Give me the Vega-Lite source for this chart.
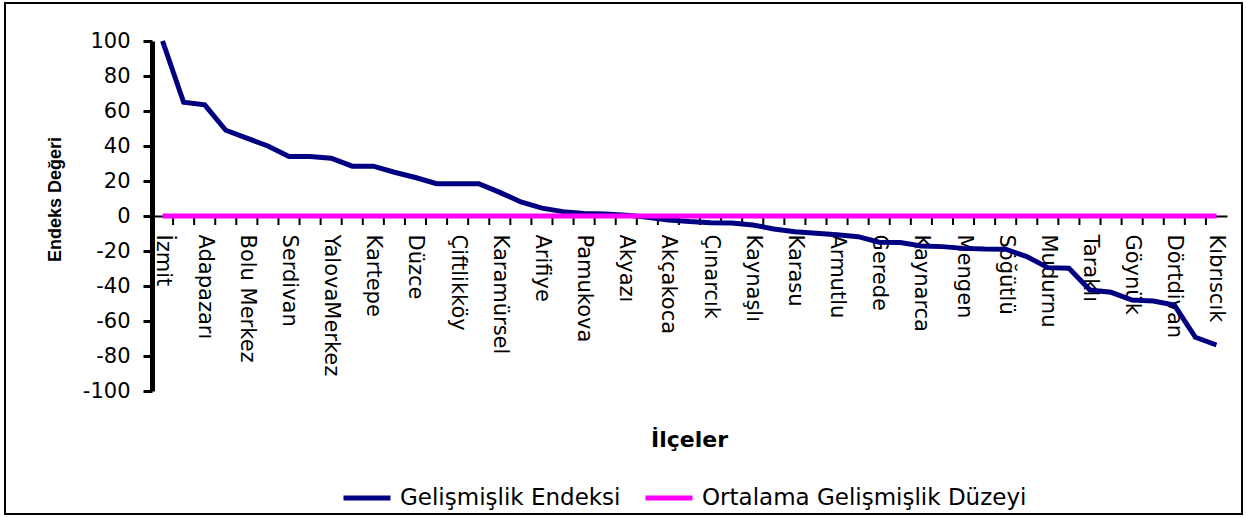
{
  "$schema": "https://vega.github.io/schema/vega-lite/v6.json",
  "width": 1237,
  "height": 511,
  "autosize": {"type": "none"},
  "padding": {"left": 5, "top": 3, "right": 4, "bottom": 3},
  "background": "white",
  "config": {
    "view": {"stroke": "black", "strokeWidth": 2},
    "axis": {"grid": false}
  },
  "datasets": {
    "ilceler": [
      {"ilce": "İzmit", "endeks": 100, "ortalama": 0},
      {"ilce": "Gebze", "endeks": 65, "ortalama": 0},
      {"ilce": "Adapazarı", "endeks": 63.5, "ortalama": 0},
      {"ilce": "Körfez", "endeks": 49, "ortalama": 0},
      {"ilce": "Bolu Merkez", "endeks": 44.5, "ortalama": 0},
      {"ilce": "Gölcük", "endeks": 40, "ortalama": 0},
      {"ilce": "Serdivan", "endeks": 34, "ortalama": 0},
      {"ilce": "Derince", "endeks": 34, "ortalama": 0},
      {"ilce": "YalovaMerkez", "endeks": 33, "ortalama": 0},
      {"ilce": "Sapanca", "endeks": 28.5, "ortalama": 0},
      {"ilce": "Kartepe", "endeks": 28.5, "ortalama": 0},
      {"ilce": "Başiskele", "endeks": 25, "ortalama": 0},
      {"ilce": "Düzce", "endeks": 22, "ortalama": 0},
      {"ilce": "Darıca", "endeks": 18.5, "ortalama": 0},
      {"ilce": "Çiftlikköy", "endeks": 18.5, "ortalama": 0},
      {"ilce": "Çayırova", "endeks": 18.5, "ortalama": 0},
      {"ilce": "Karamürsel", "endeks": 13.5, "ortalama": 0},
      {"ilce": "Erenler", "endeks": 8, "ortalama": 0},
      {"ilce": "Arifiye", "endeks": 4.5, "ortalama": 0},
      {"ilce": "Hendek", "endeks": 2.5, "ortalama": 0},
      {"ilce": "Pamukova", "endeks": 1.5, "ortalama": 0},
      {"ilce": "Dilovası", "endeks": 1.2, "ortalama": 0},
      {"ilce": "Akyazı", "endeks": 0.5, "ortalama": 0},
      {"ilce": "Gölyaka", "endeks": -0.7, "ortalama": 0},
      {"ilce": "Akçakoca", "endeks": -2.3, "ortalama": 0},
      {"ilce": "Altınova", "endeks": -3.2, "ortalama": 0},
      {"ilce": "Çınarcık", "endeks": -3.8, "ortalama": 0},
      {"ilce": "Termal", "endeks": -4, "ortalama": 0},
      {"ilce": "Kaynaşlı", "endeks": -5.1, "ortalama": 0},
      {"ilce": "Cumayeri", "endeks": -7.4, "ortalama": 0},
      {"ilce": "Karasu", "endeks": -9, "ortalama": 0},
      {"ilce": "Geyve", "endeks": -9.9, "ortalama": 0},
      {"ilce": "Armutlu", "endeks": -10.7, "ortalama": 0},
      {"ilce": "Ferizli", "endeks": -11.8, "ortalama": 0},
      {"ilce": "Gerede", "endeks": -15, "ortalama": 0},
      {"ilce": "Kandıra", "endeks": -15.2, "ortalama": 0},
      {"ilce": "Kaynarca", "endeks": -17.1, "ortalama": 0},
      {"ilce": "Kocaali", "endeks": -17.5, "ortalama": 0},
      {"ilce": "Mengen", "endeks": -18.5, "ortalama": 0},
      {"ilce": "Gümüşova", "endeks": -18.9, "ortalama": 0},
      {"ilce": "Söğütlü", "endeks": -19, "ortalama": 0},
      {"ilce": "Çilimli", "endeks": -23.2, "ortalama": 0},
      {"ilce": "Mudurnu", "endeks": -29.5, "ortalama": 0},
      {"ilce": "Karapürçek", "endeks": -29.9, "ortalama": 0},
      {"ilce": "Taraklı", "endeks": -42.3, "ortalama": 0},
      {"ilce": "Yeniçağa", "endeks": -43.6, "ortalama": 0},
      {"ilce": "Göynük", "endeks": -48, "ortalama": 0},
      {"ilce": "Seben", "endeks": -48.6, "ortalama": 0},
      {"ilce": "Dörtdivan", "endeks": -50.9, "ortalama": 0},
      {"ilce": "Yığılca", "endeks": -69.3, "ortalama": 0},
      {"ilce": "Kıbrıscık", "endeks": -73.7, "ortalama": 0}
    ]
  },
  "layer": [
    {
      "data": {"name": "ilceler"},
      "mark": {"type": "rule", "color": "black", "strokeWidth": 2},
      "encoding": {
        "x": {"field": "ilce", "type": "nominal", "sort": null, "bandPosition": 0},
        "y": {"datum": 0, "type": "quantitative"},
        "y2": {"datum": -5.14}
      }
    },
    {
      "data": {"name": "ilceler"},
      "transform": [{"fold": ["endeks", "ortalama"], "as": ["seri", "deger"]}],
      "mark": {"type": "line", "strokeWidth": 5},
      "encoding": {
        "x": {
          "field": "ilce",
          "type": "nominal",
          "sort": null,
          "scale": {
            "type": "band",
            "domain": ["İzmit","Gebze","Adapazarı","Körfez","Bolu Merkez","Gölcük","Serdivan","Derince","YalovaMerkez","Sapanca","Kartepe","Başiskele","Düzce","Darıca","Çiftlikköy","Çayırova","Karamürsel","Erenler","Arifiye","Hendek","Pamukova","Dilovası","Akyazı","Gölyaka","Akçakoca","Altınova","Çınarcık","Termal","Kaynaşlı","Cumayeri","Karasu","Geyve","Armutlu","Ferizli","Gerede","Kandıra","Kaynarca","Kocaali","Mengen","Gümüşova","Söğütlü","Çilimli","Mudurnu","Karapürçek","Taraklı","Yeniçağa","Göynük","Seben","Dörtdivan","Yığılca","Kıbrıscık"],
            "range": [147, 1222],
            "paddingInner": 0,
            "paddingOuter": 0
          },
          "axis": {
            "orient": "bottom",
            "offset": -298,
            "domain": true,
            "domainColor": "black",
            "domainWidth": 2,
            "ticks": false,
            "labelAngle": 90,
            "labelAlign": "left",
            "labelBaseline": "middle",
            "labelPadding": 18,
            "labelFont": "DejaVu Sans",
            "labelFontSize": 21,
            "labelColor": "black",
            "labelOverlap": false,
            "labelLimit": 0,
            "labelExpr": "indexof(['İzmit','Adapazarı','Bolu Merkez','Serdivan','YalovaMerkez','Kartepe','Düzce','Çiftlikköy','Karamürsel','Arifiye','Pamukova','Akyazı','Akçakoca','Çınarcık','Kaynaşlı','Karasu','Armutlu','Gerede','Kaynarca','Mengen','Söğütlü','Mudurnu','Taraklı','Göynük','Dörtdivan','Kıbrıscık'], datum.value) >= 0 ? datum.label : ''",
            "title": "İlçeler",
            "titleFont": "DejaVu Sans",
            "titleFontSize": 22,
            "titleFontWeight": "bold",
            "titleColor": "black",
            "titleX": 684,
            "titleY": 230,
            "titleAlign": "center",
            "titleBaseline": "alphabetic"
          }
        },
        "y": {
          "field": "deger",
          "type": "quantitative",
          "scale": {"domain": [-100, 100], "range": [388, 38], "nice": false, "zero": false},
          "axis": {
            "orient": "left",
            "offset": -147,
            "domain": true,
            "domainColor": "black",
            "domainWidth": 5,
            "values": [-100, -80, -60, -40, -20, 0, 20, 40, 60, 80, 100],
            "tickSize": 9,
            "tickWidth": 3,
            "tickColor": "black",
            "labelExpr": "toString(datum.value)",
            "labelFont": "DejaVu Sans",
            "labelFontSize": 21,
            "labelColor": "black",
            "labelPadding": 13,
            "title": "Endeks Değeri",
            "titleFont": "Liberation Sans",
            "titleFontSize": 18,
            "titleFontWeight": "bold",
            "titleColor": "black",
            "titleX": -88,
            "titleY": 196,
            "titleAngle": -90,
            "titleAlign": "center",
            "titleBaseline": "bottom"
          }
        },
        "color": {
          "field": "seri",
          "type": "nominal",
          "scale": {"domain": ["endeks", "ortalama"], "range": ["#000080", "#FF00FF"]},
          "legend": {
            "orient": "none",
            "legendX": 336,
            "legendY": 469,
            "direction": "horizontal",
            "title": null,
            "symbolType": "stroke",
            "symbolStrokeWidth": 5,
            "symbolSize": 2209,
            "labelFont": "DejaVu Sans",
            "labelFontSize": 23,
            "labelColor": "black",
            "labelOffset": 7,
            "columnPadding": 14,
            "labelLimit": 0,
            "padding": 0,
            "labelExpr": "datum.value === 'endeks' ? 'Gelişmişlik Endeksi' : 'Ortalama Gelişmişlik Düzeyi'"
          }
        }
      }
    }
  ]
}
